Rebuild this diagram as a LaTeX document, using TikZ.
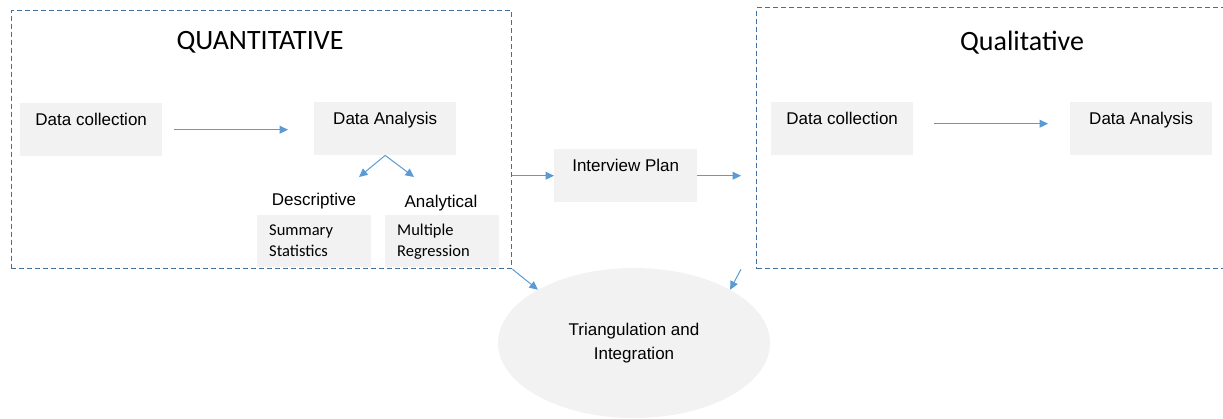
\documentclass[tikz,border=0pt]{standalone}
\usepackage{fontspec}
\setmainfont{Liberation Sans}
\newfontfamily\calibri{Carlito}
\usetikzlibrary{positioning,arrows.meta,shapes.geometric}
\definecolor{framedash}{RGB}{65,113,156}
\definecolor{flowarrow}{RGB}{91,155,213}
\definecolor{boxfill}{RGB}{242,242,242}
\tikzset{
  phasebox/.style={draw=framedash, line width=1.2pt, dash pattern=on 5pt off 3pt,
                   anchor=north west, inner sep=0pt},
  stagebox/.style={fill=boxfill, anchor=north west, minimum width=142pt,
                   inner xsep=0pt, inner ysep=5pt, text height=17pt, text depth=26pt,
                   font=\fontsize{17}{20}\selectfont},
  methodbox/.style={fill=boxfill, anchor=north west, minimum height=52pt,
                    inner xsep=12pt, text width=90pt, align=left,
                    font=\calibri\fontsize{16.5}{21}\selectfont},
  phasetitle/.style={font=\calibri\fontsize{28}{32}\selectfont},
  branchlabel/.style={font=\fontsize{17}{20}\selectfont},
  arr/.style={-{Triangle[length=8.5pt,width=8pt]}, flowarrow, line width=1pt}
}

\begin{document}
\begin{tikzpicture}[x=1pt, y=-1pt]
  \useasboundingbox (0,0) rectangle (1223,418);
  \clip (0,0) rectangle (1223,418);

  % quantitative strand
  \node[stagebox] (quantCollect) at (20,103) {Data collection};
  \node[stagebox] (quantAnalysis) at (314,102) {Data Analysis};
  \node[branchlabel] (descLabel) at (314,201) {Descriptive};
  \node[branchlabel] (analLabel) at (441,203) {Analytical};
  \node[methodbox] (summaryBox) at (257,215) {Summary\\Statistics};
  \node[methodbox] (regressBox) at (385,215) {Multiple\\Regression};
  \node[phasebox, minimum width=500.5pt, minimum height=258pt] (quantFrame) at (10.7,10) {};
  \node[phasetitle] (quantTitle) at (260,42) {QUANTITATIVE};

  \coordinate (descTip) at (359,177);
  \coordinate (analTip) at (414,177);
  \draw[arr, shorten <=12pt, shorten >=26pt] (quantCollect.east) -- (quantAnalysis.west |- quantCollect.east);
  \draw[arr] (quantAnalysis.south) -- (descTip);
  \draw[arr] (quantAnalysis.south) -- (analTip);

  % bridge between the two strands
  \node[stagebox, minimum width=143pt] (interview) at (554,149) {Interview Plan};
  \node[ellipse, fill=boxfill, minimum width=272pt, minimum height=150pt,
        align=center, font=\fontsize{17}{24}\selectfont] (triang) at (634,343)
       {Triangulation and\\Integration};

  % qualitative strand
  \node[stagebox] (qualCollect) at (771,102) {Data collection};
  \node[stagebox] (qualAnalysis) at (1070,102) {Data Analysis};
  \node[phasebox, minimum width=480pt, minimum height=261pt] (qualFrame) at (756,7) {};
  \node[phasetitle] (qualTitle) at (1022,43) {Qualitative};

  \draw[arr, shorten <=21pt, shorten >=22pt] ([yshift=5pt]qualCollect.east) -- ([yshift=5pt]qualAnalysis.west);

  \draw[arr] (quantFrame.east |- interview.west) -- (interview.west);
  \draw[arr, shorten >=15pt] (interview.east) -- (interview.east -| qualFrame.west);
  \draw[arr] (quantFrame.south east) -- (triang.151);
  \draw[arr] ([xshift=-15pt]qualFrame.south west) -- (triang.29);
\end{tikzpicture}
\end{document}
